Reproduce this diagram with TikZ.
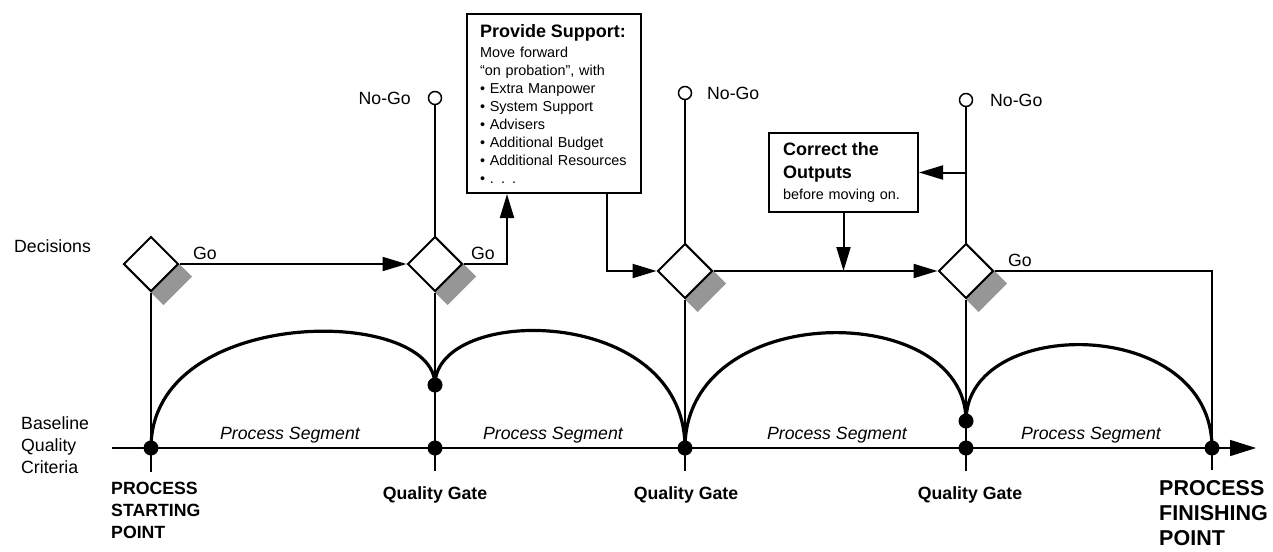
\documentclass[tikz,border=0pt]{standalone}
\usepackage{fontspec}
\setmainfont{Liberation Sans}
\usetikzlibrary{shapes.geometric,arrows.meta,calc,backgrounds}
\definecolor{shadowgray}{RGB}{150,150,150}
\begin{document}
\begin{tikzpicture}[x=1pt,y=-1pt,
  lbl/.style={inner sep=0pt, font=\fontsize{17.7}{22}\selectfont, text height=12.7pt, text depth=0pt},
  lblb/.style={lbl, font=\fontsize{17.7}{22}\selectfont\bfseries},
  lbli/.style={lbl, font=\fontsize{17.7}{22}\selectfont\itshape},
  mlbl/.style={inner sep=0pt, align=left, font=\fontsize{17.7}{22}\selectfont},
  dec/.style={diamond, draw, line width=2pt, fill=white, minimum width=55pt, minimum height=55pt, inner sep=0pt},
  nogo/.style={circle, draw, line width=1.5pt, fill=white, minimum size=13pt, inner sep=0pt},
  dot/.style={circle, fill=black, minimum size=15pt, inner sep=0pt},
  thinline/.style={line width=1.4pt},
  arr/.style={line width=2pt, -{Triangle[length=24pt,width=14pt]}},
  curveline/.style={line width=3.2pt},
  boxs/.style={draw, line width=2pt, fill=white, align=left, inner ysep=0pt, font=\fontsize{14.4}{18}\selectfont}
]
\useasboundingbox (0,0) rectangle (1273,551);

% decisions
\node[dec] (d1) at (151,264) {};
\node[dec] (d2) at (435,264) {};
\node[dec] (d3) at (685,271) {};
\node[dec] (d4) at (966,271) {};
\begin{scope}[on background layer]
\foreach \d in {d1,d2,d3,d4}
  \fill[shadowgray] (\d.east) -- (\d.south) -- ($(\d.south)+(12.5,12.5)$) -- ($(\d.east)+(12.5,12.5)$) -- cycle;
\end{scope}

% no-go circles
\node[nogo] (n2) at (435,98) {};
\node[nogo] (n3) at (685,93) {};
\node[nogo] (n4) at (966,100) {};

% boxes
\node[boxs, minimum width=174pt, minimum height=179pt, text width=148pt, inner xsep=13pt] (ps) at (554,103.5)
 {{\fontsize{18}{20}\selectfont\bfseries Provide Support:}\\[2pt]
  Move forward\\
  “on probation”, with\\
  • Extra Manpower\\
  • System Support\\
  • Advisers\\
  • Additional Budget\\
  • Additional Resources\\
  • . . .};
\node[boxs, minimum width=149pt, minimum height=79pt, text width=121pt, inner xsep=14pt] (cb) at (843.5,172.5)
 {{\fontsize{18}{20}\selectfont\bfseries Correct the}\\[5pt]
  {\fontsize{18}{20}\selectfont\bfseries Outputs}\\[2.8pt]
  before moving on.};

% baseline
\coordinate (bl) at (112,448);
\coordinate (br) at (1256,448);
\draw[line width=1.5pt, -{Triangle[length=26pt,width=16pt]}] (bl) -- (br);

% dots
\node[dot] (s) at (151,448) {};
\node[dot] (g2u) at (435,385) {};
\node[dot] (g2) at (435,448) {};
\node[dot] (g3) at (685,448) {};
\node[dot] (g4u) at (966,421) {};
\node[dot] (g4) at (966,448) {};
\node[dot] (f) at (1212,448) {};

% vertical lines
\coordinate (sb) at (151,472);
\coordinate (g2b) at (435,471);
\coordinate (g3b) at (685,471);
\coordinate (g4b) at (966,471);
\coordinate (fb) at (1212,470);
\coordinate (fc) at (1212,271);
\draw[thinline] (d1.south) -- (sb);
\draw[thinline] (n2.south) -- (d2.north);
\draw[thinline] (d2.south) -- (g2b);
\draw[thinline] (n3.south) -- (d3.north);
\draw[thinline] (d3.south) -- (g3b);
\draw[thinline] (n4.south) -- (d4.north);
\draw[thinline] (d4.south) -- (g4b);
\draw[thinline] (d4.east) -- (fc) -- (fb);

% arcs
\draw[curveline] (s.center) .. controls (151,305) and (435,305) .. (g2u.center);
\draw[curveline] (g2u.center) .. controls (435,304) and (685,304) .. (g3.center);
\draw[curveline] (g3.center) .. controls (685,299) and (966,299) .. (g4u.center);
\draw[curveline] (g4u.center) .. controls (966,315) and (1212,315) .. (f.center);

% arrows
\draw[arr] (d1.east) -- (d2.west);
\draw[arr] (d2.east) -| ($(ps.south west)+(41,0)$);
\draw[arr] ($(ps.south west)+(141,0)$) |- (d3.west);
\draw[arr] (d3.east) -- (d4.west);
\draw[arr] (cb.south) -- (cb.south |- d3.east);
\draw[arr] (d4.north |- cb.east) -- (cb.east);

% labels
\node[lbl, anchor=west] (ldec) at (14,246) {Decisions};
\node[mlbl, anchor=west] (lbqc) at (21,445) {Baseline\\Quality\\Criteria};
\node[mlbl, anchor=west, font=\fontsize{17.7}{22}\selectfont\bfseries] (lstart) at (111,510) {PROCESS\\STARTING\\POINT};
\node[mlbl, anchor=west, font=\fontsize{21.5}{25}\selectfont\bfseries] (lfinish) at (1159,513) {PROCESS\\FINISHING\\POINT};
\node[lblb] (q2) at (435,493) {Quality Gate};
\node[lblb] (q3) at (686,493) {Quality Gate};
\node[lblb] (q4) at (970,493) {Quality Gate};
\node[lbli] (p1) at (290,433) {Process Segment};
\node[lbli] (p2) at (553,433) {Process Segment};
\node[lbli] (p3) at (837,433) {Process Segment};
\node[lbli] (p4) at (1091,433) {Process Segment};
\node[lbl] (go1) at (205,253) {Go};
\node[lbl] (go2) at (483,253) {Go};
\node[lbl] (go4) at (1020,260) {Go};
\node[lbl, anchor=east] (ng2) at (411,98) {No-Go};
\node[lbl, anchor=west] (ng3) at (707,93) {No-Go};
\node[lbl, anchor=west] (ng4) at (990,100) {No-Go};
\end{tikzpicture}
\end{document}
